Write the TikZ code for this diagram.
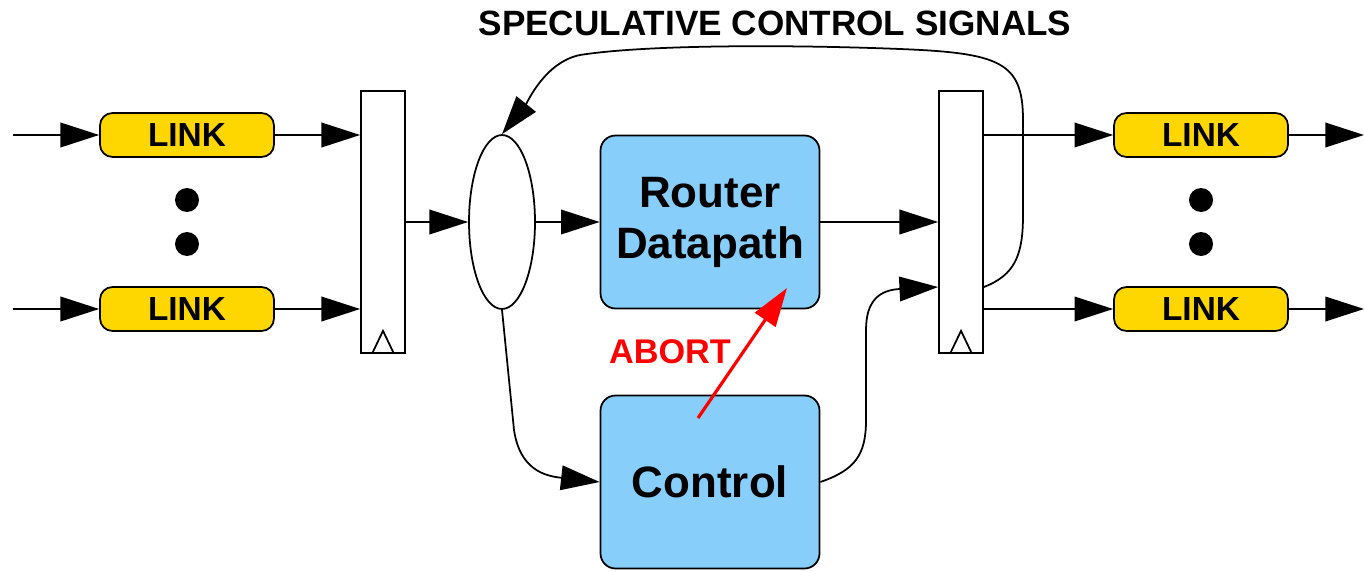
\documentclass[tikz,border=0pt]{standalone}
\usepackage{fontspec}
\setmainfont{Liberation Sans}
\usetikzlibrary{shapes.geometric,arrows.meta,calc}
\definecolor{linkgold}{HTML}{FFD700}
\definecolor{boxblue}{HTML}{87CEFA}
\begin{document}
\begin{tikzpicture}[>={Triangle[length=22pt,width=14pt]},x=0.02cm,y=-0.02cm,line width=1pt,
    linkbox/.style={draw,fill=linkgold,rounded corners=0.25cm,minimum width=3.48cm,minimum height=0.88cm,inner sep=0pt,font=\fontsize{19}{22}\selectfont\bfseries},
    blk/.style={draw,fill=boxblue,rounded corners=0.3cm,minimum width=4.38cm,minimum height=3.46cm,align=center,inner sep=0pt,font=\fontsize{25}{29}\selectfont\bfseries},
    reg/.style={draw,fill=white,minimum width=0.88cm,minimum height=5.24cm,inner sep=0pt},
    vdot/.style={circle,fill=black,minimum size=0.48cm,inner sep=0pt}]
    \useasboundingbox (0,0) rectangle (1364,571);
    % input side
    \node[linkbox] (lin1) at (187,135) {LINK};
    \node[linkbox] (lin2) at (187,309) {LINK};
    \node[vdot] (ldot1) at (187,200) {};
    \node[vdot] (ldot2) at (187,244) {};
    \coordinate (in1) at (13,135);
    \coordinate (in2) at (13,309);
    \node[reg] (regA) at (383,222) {};
    \draw (regA.south) ++(-11,0) -- ++(11,-23) -- ++(11,23);
    \draw[->] (in1) -- (lin1);
    \draw[->] (in2) -- (lin2);
    \draw[->] (lin1) -- (lin1 -| regA.west);
    \draw[->] (lin2) -- (lin2 -| regA.west);
    % middle
    \node[draw,ellipse,minimum width=1.32cm,minimum height=3.48cm,inner sep=0pt] (mux) at (502,222) {};
    \node[blk] (router) at (710,222) {Router\\Datapath};
    \node[blk] (ctrl) at (710,482) {Control};
    \draw[->] (regA.east) -- (mux.west);
    \draw[->] (mux) -- (router);
    \draw[->] (mux.south) -- (514,430) .. controls (520,470) and (545,476) .. (ctrl.west);
    % output side
    \node[reg] (regB) at (961,222) {};
    \draw (regB.south) ++(-11,0) -- ++(11,-23) -- ++(11,23);
    \coordinate (rin2) at ($(regB.west)+(0,65)$);
    \coordinate (rout2) at ($(regB.east)+(0,65)$);
    \draw[->] (router) -- (router -| regB.west);
    \draw[->] (ctrl.east) .. controls (855,470) and (866,455) .. (866,420) -- (866,330) .. controls (866,300) and (880,290) .. (rin2);
    \node[linkbox] (lout1) at (1201,135) {LINK};
    \node[linkbox] (lout2) at (1201,309) {LINK};
    \node[vdot] (rdot1) at (1201,200) {};
    \node[vdot] (rdot2) at (1201,244) {};
    \coordinate (out1) at (1364,135);
    \coordinate (out2) at (1364,309);
    \draw[->] (lout1 -| regB.east) -- (lout1);
    \draw[->] (lout2 -| regB.east) -- (lout2);
    \draw[->] (lout1) -- (out1);
    \draw[->] (lout2) -- (out2);
    % speculative feedback
    \node[font=\fontsize{20}{23}\selectfont\bfseries] (title) at (775,23) {SPECULATIVE CONTROL SIGNALS};
    \draw[->] (rout2) .. controls (1015,275) and (1023,255) .. (1023,215) -- (1023,120)
        .. controls (1023,62) and (1000,53) .. (900,49) .. controls (800,45) and (650,44) .. (580,55)
        .. controls (545,62) and (527,103) .. (mux.north);
    % abort
    \node[red,font=\fontsize{19.5}{22}\selectfont\bfseries] (abort) at (670,352) {ABORT};
    \draw[->,red,line width=1.8pt] ($(ctrl)+(-12,-64)$) -- ($(router)+(77,66)$);
\end{tikzpicture}
\end{document}
